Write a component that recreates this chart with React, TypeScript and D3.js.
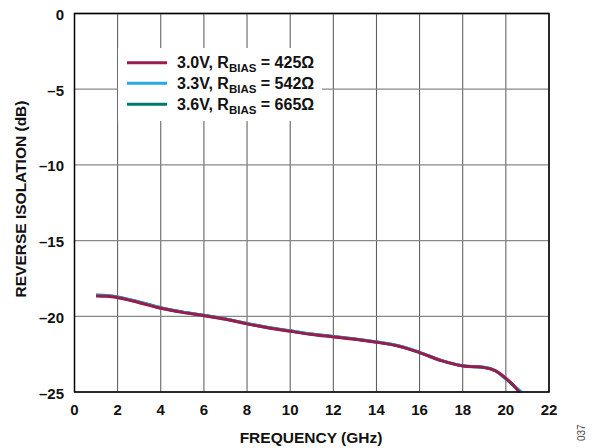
import React from "react";
import * as d3 from "d3";

const freq3v0 = [1.0, 1.5, 2, 3, 4, 5, 6, 7, 8, 9, 10, 11, 12, 13, 14, 15, 16, 17, 18, 19, 19.5, 20, 20.4, 20.62];
const iso3v0 = [-18.66, -18.68, -18.77, -19.1, -19.47, -19.74, -19.96, -20.2, -20.5, -20.77, -20.99, -21.2, -21.36, -21.52, -21.72, -21.96, -22.4, -22.93, -23.28, -23.39, -23.59, -24.1, -24.64, -25.0];
const freq3v3 = [1.0, 1.5, 2, 3, 4, 5, 6, 7, 8, 9, 10, 11, 12, 13, 14, 15, 16, 17, 18, 19, 19.5, 20, 20.45, 20.72];
const iso3v3 = [-18.62, -18.65, -18.74, -19.07, -19.45, -19.72, -19.94, -20.18, -20.48, -20.75, -20.97, -21.18, -21.34, -21.5, -21.7, -21.94, -22.38, -22.91, -23.27, -23.38, -23.6, -24.15, -24.68, -25.0];
const freq3v6 = [1.0, 1.5, 2, 3, 4, 5, 6, 7, 8, 9, 10, 11, 12, 13, 14, 15, 16, 17, 18, 19, 19.5, 20, 20.4, 20.65];
const iso3v6 = [-18.6, -18.63, -18.72, -19.05, -19.43, -19.71, -19.93, -20.17, -20.47, -20.74, -20.96, -21.17, -21.33, -21.5, -21.7, -21.94, -22.38, -22.91, -23.26, -23.37, -23.58, -24.1, -24.63, -25.0];

const xTicks = [0, 2, 4, 6, 8, 10, 12, 14, 16, 18, 20, 22];
const yTicks = [0, -5, -10, -15, -20, -25];

const seriesNames = ["3.0V", "3.3V", "3.6V"];
const seriesRbias = ["425Ω", "542Ω", "665Ω"];
const seriesColors = ["#9b1b4b", "#29a9e0", "#00786e"];

export default function App() {
  const W = 594, H = 448;
  const x = d3.scaleLinear().domain([0, 22]).range([74.5, 549]);
  const y = d3.scaleLinear().domain([0, -25]).range([13.5, 392]);
  const line = d3.line<[number, number]>().x(d => x(d[0])).y(d => y(d[1])).curve(d3.curveMonotoneX);
  const series = [
    { f: freq3v0, v: iso3v0 },
    { f: freq3v3, v: iso3v3 },
    { f: freq3v6, v: iso3v6 },
  ];
  const drawOrder = [2, 1, 0];
  const font = "'Liberation Sans', Arial, sans-serif";
  const legendY = [62.7, 83.3, 104.3];
  return (
    <svg width={W} height={H} style={{ position: "absolute", left: 0, top: 0 }} fontFamily={font}>
      <rect x={0} y={0} width={W} height={H} fill="#fff" />
      {xTicks.map(t => (
        <line key={"gx" + t} x1={x(t)} x2={x(t)} y1={y(0)} y2={y(-25)} stroke="#555" strokeWidth={1} />
      ))}
      {yTicks.map(t => (
        <line key={"gy" + t} x1={x(0)} x2={x(22)} y1={y(t)} y2={y(t)} stroke="#888" strokeWidth={1.3} />
      ))}
      <rect x={118} y={48} width={204} height={73} fill="#fff" />
      {drawOrder.map(i => (
        <path key={"s" + i} d={line(series[i].f.map((f, j) => [f, series[i].v[j]] as [number, number])) || ""}
          fill="none" stroke={seriesColors[i]} strokeWidth={3} strokeLinejoin="round" />
      ))}
      <rect x={x(0)} y={y(0)} width={x(22) - x(0)} height={y(-25) - y(0)} fill="none" stroke="#000" strokeWidth={1.5} />
      {xTicks.map(t => (
        <text key={"tx" + t} x={x(t)} y={415} textAnchor="middle" fontSize={15} fontWeight="bold" fill="#111">{t}</text>
      ))}
      {yTicks.map(t => (
        <text key={"ty" + t} x={64} y={y(t) + 6.5} textAnchor="end" fontSize={15} fontWeight="bold" fill="#111">
          {t === 0 ? "0" : "–" + Math.abs(t)}
        </text>
      ))}
      <text x={311} y={443} textAnchor="middle" fontSize={15.5} fontWeight="bold" fill="#111">FREQUENCY (GHz)</text>
      <text transform={`translate(26, 199) rotate(-90)`} textAnchor="middle" fontSize={15.5} fontWeight="bold" fill="#111">REVERSE ISOLATION (dB)</text>
      <text transform="translate(585, 441) rotate(-90)" textAnchor="start" fontSize={10} fill="#444">037</text>
      {seriesNames.map((n, i) => (
        <g key={"lg" + i}>
          <line x1={127} x2={167} y1={legendY[i]} y2={legendY[i]} stroke={seriesColors[i]} strokeWidth={3} />
          <text x={177} y={legendY[i] + 5.5} fontSize={16} fontWeight="bold" fill="#111">
            {n + ", R"}
            <tspan fontSize={11.5} dy={4}>BIAS</tspan>
            <tspan dy={-4}>{" = " + seriesRbias[i]}</tspan>
          </text>
        </g>
      ))}
    </svg>
  );
}
